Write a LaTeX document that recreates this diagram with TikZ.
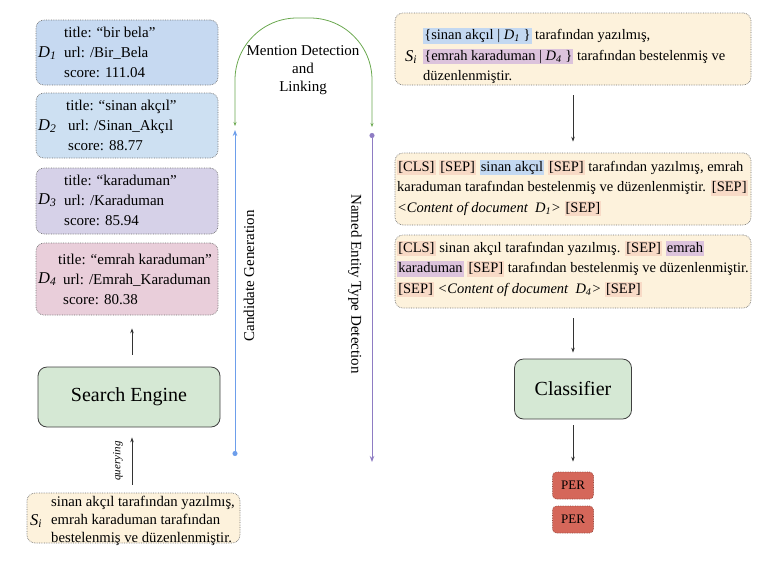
\documentclass[tikz,border=0pt]{standalone}
\usepackage{fontspec}
\setmainfont{Liberation Serif}
\usepackage{tikz}
\usetikzlibrary{arrows.meta}
\usetikzlibrary{positioning}

\definecolor{dblueA}{HTML}{C6D9F1}
\definecolor{dblueB}{HTML}{CDE0F2}
\definecolor{dlav}{HTML}{D6D1E8}
\definecolor{dpink}{HTML}{E9CEDA}
\definecolor{cream}{HTML}{FDF2DC}
\definecolor{sgreen}{HTML}{D5E8D4}
\definecolor{perred}{HTML}{D5675A}
\definecolor{hlblue}{HTML}{C3D8F1}
\definecolor{hlpeach}{HTML}{F8DAC6}
\definecolor{hlmauve}{HTML}{DCC3DC}
\definecolor{linblue}{HTML}{6D9EEB}
\definecolor{linpurple}{HTML}{8E7CC3}
\definecolor{lingreen}{HTML}{6AA84F}

\newcommand{\hlbox}[2]{{\setlength{\fboxsep}{0.5pt}\colorbox{#1}{\rule[-3.6pt]{0pt}{14.2pt}\hspace{0.6pt}#2\hspace{0.6pt}}}}
\newcommand{\hlb}[1]{\hlbox{hlblue}{#1}}
\newcommand{\hlp}[1]{\hlbox{hlpeach}{#1}}
\newcommand{\hlm}[1]{\hlbox{hlmauve}{#1}}
\newcommand{\dlab}[2]{\textit{#1}\textsubscript{\textit{#2}}}

\begin{document}
\begin{tikzpicture}[x=1pt, y=-1pt,
  font=\fontsize{15}{20}\selectfont,
  docbox/.style={draw=black!55, densely dotted, line width=0.7pt, rounded corners=8pt, inner sep=0pt},
  procbox/.style={draw=black!75, line width=0.8pt, rounded corners=9pt, fill=sgreen, font=\fontsize{20}{24}\selectfont},
  perbox/.style={draw=perred!70!black, densely dotted, line width=0.7pt, fill=perred, rounded corners=4pt, minimum width=41, minimum height=27, inner sep=0pt, font=\fontsize{13}{15}\selectfont},
  txt/.style={anchor=west, align=left, inner sep=0pt},
  dlabel/.style={txt, font=\fontsize{16.5}{20}\selectfont},
  rtxt/.style={txt, font=\fontsize{14.5}{20.5}\selectfont},
  arr/.style={draw=black!80, line width=0.7pt, -{Stealth[length=5pt,width=3.5pt]}},
]
\useasboundingbox (0,0) rectangle (778,571);

% candidate documents
\node[docbox, fill=dblueA, minimum width=182, minimum height=65] (d1) at (127,52.5) {};
\node[dlabel] (d1lab) at (38,53) {\dlab{D}{1}};
\node[txt] (d1txt) at (64,52) {title: “bir bela”\\url: /Bir\_Bela\\score: 111.04};
\node[docbox, fill=dblueB, minimum width=182, minimum height=65] (d2) at (127,125.5) {};
\node[dlabel] (d2lab) at (38,126) {\dlab{D}{2}};
\node[txt] (d2txt) at (66,125) {title: “sinan akçıl”\\\hspace*{2pt}url: /Sinan\_Akçıl\\\hspace*{2pt}score: 88.77};
\node[docbox, fill=dlav, minimum width=182, minimum height=66] (d3) at (127,201) {};
\node[dlabel] (d3lab) at (38,200) {\dlab{D}{3}};
\node[txt] (d3txt) at (64,200) {title: “karaduman”\\url: /Karaduman\\score: 85.94};
\node[docbox, fill=dpink, minimum width=182, minimum height=72] (d4) at (127,279) {};
\node[dlabel] (d4lab) at (38,279) {\dlab{D}{4}};
\node[txt] (d4txt) at (58,279) {title: “emrah karaduman”\\\hspace*{5pt}url: /Emrah\_Karaduman\\\hspace*{5pt}score: 80.38};

\node[procbox, minimum width=182, minimum height=60] (se) at (129,397) {Search Engine};

% input sentence
\node[docbox, fill=cream, minimum width=213, minimum height=50] (sb) at (133.5,518) {};
\node[dlabel] (sblab) at (30,521) {\dlab{S}{i}};
\node[txt, font=\fontsize{14.7}{18}\selectfont] (sbtxt) at (51,521) {sinan akçıl tarafından yazılmış,\\emrah karaduman tarafından\\bestelenmiş ve düzenlenmiştir.};

\draw[arr, shorten <=12pt, shorten >=13pt] ([xshift=3pt]se.north) -- ([xshift=5pt]d4.south);
\draw[arr, shorten <=8pt, shorten >=10pt] ([xshift=-1.5pt]sb.north) -- ([xshift=3pt]se.south);
\node[rotate=90, font=\fontsize{11}{13}\selectfont\itshape] (qlab) at (118,461) {querying};

% stages
\coordinate (cgbot) at (235,456);
\coordinate (cgtop) at (235,130);
\coordinate (ntop) at (372,133);
\coordinate (nbot) at (372,462);
\coordinate (mdl) at (235,126);
\coordinate (mdr) at (372,127);
\draw[linblue, line width=1pt, {Circle[length=5pt]}-{Stealth[length=6pt,width=4.5pt]}] (cgbot) -- (cgtop);
\draw[linpurple, line width=1pt, {Circle[length=5pt]}-{Stealth[length=6pt,width=4.5pt]}] (ntop) -- (nbot);
\draw[lingreen, line width=0.8pt, rounded corners=62pt, {Stealth[length=4pt,width=3pt]}-{Stealth[length=4pt,width=3pt]}] (mdl) -- (235,18) -- (372,18) -- (mdr);
\node[align=center, font=\fontsize{15}{18}\selectfont] (mdlab) at (303,70) {Mention Detection\\and\\Linking};
\node[rotate=90] (cglab) at (249,276) {Candidate Generation};
\node[rotate=-90] (ntlab) at (355,284) {Named Entity Type Detection};

% right side
\node[docbox, fill=cream, minimum width=356, minimum height=72] (si2) at (573,49) {};
\node[dlabel] (si2lab) at (405,57) {\dlab{S}{i}};
\node[rtxt] (si2txt) at (423,56) {\hlb{\{sinan akçıl | \dlab{D}{1} \}} tarafından yazılmış,\\\hlm{\{emrah karaduman | \dlab{D}{4} \}} tarafından bestelenmiş ve\\düzenlenmiştir.};

\node[docbox, fill=cream, minimum width=356, minimum height=72] (b2) at (573,189) {};
\node[rtxt] (b2txt) at (397,188) {\hlp{[CLS]} \hlp{[SEP]} \hlb{sinan akçıl} \hlp{[SEP]} tarafından yazılmış, emrah\\karaduman tarafından bestelenmiş ve düzenlenmiştir. \hlp{[SEP]}\\\textit{<Content of document \ D\textsubscript{1}>} \hlp{[SEP]}};

\node[docbox, fill=cream, minimum width=356, minimum height=73] (b3) at (573,271.5) {};
\node[rtxt] (b3txt) at (397,269) {\hlp{[CLS]} sinan akçıl tarafından yazılmış. \hlp{[SEP]} \hlm{emrah}\\\hlm{karaduman} \hlp{[SEP]} tarafından bestelenmiş ve düzenlenmiştir.\\\hlp{[SEP]} \textit{<Content of document \ D\textsubscript{4}>} \hlp{[SEP]}};

\node[procbox, minimum width=117, minimum height=60] (cls) at (573,389) {Classifier};
\node[perbox] (per1) at (573,485.5) {PER};
\node[perbox] (per2) at (573,519.5) {PER};

\draw[arr, shorten <=10pt, shorten >=11pt] (si2) -- (b2);
\draw[arr, shorten <=10pt, shorten >=6pt] (b3) -- (cls);
\draw[arr, shorten <=6pt, shorten >=10pt] (cls) -- (per1);
\end{tikzpicture}
\end{document}
